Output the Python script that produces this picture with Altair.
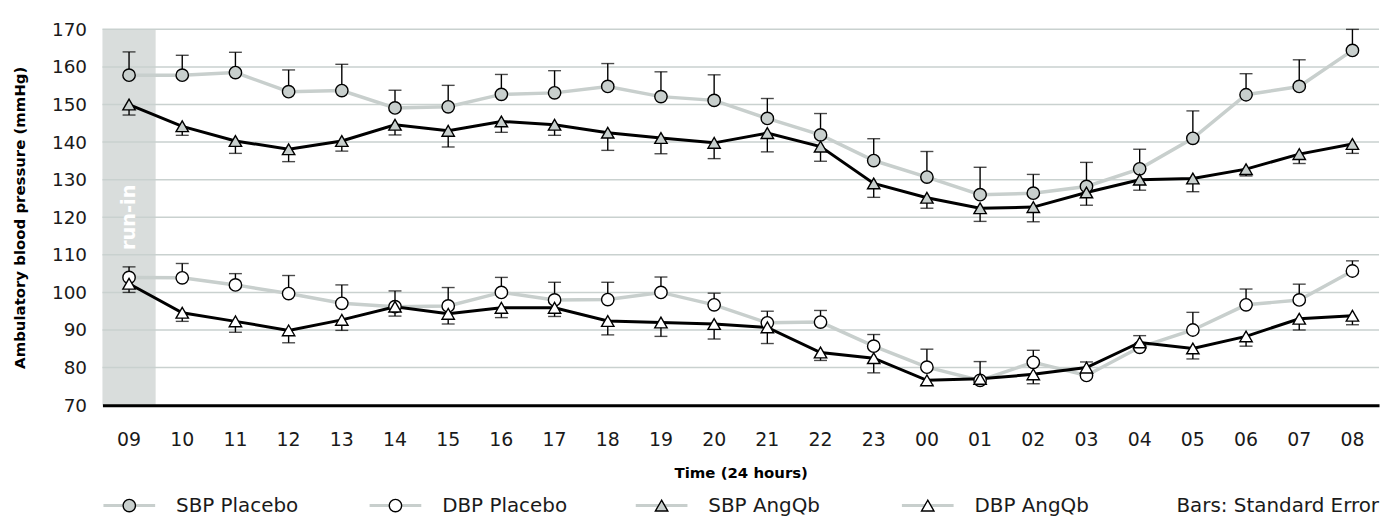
import altair as alt
import pandas as pd

# ---------------- data ----------------
hours = ["09", "10", "11", "12", "13", "14", "15", "16", "17", "18", "19", "20",
         "21", "22", "23", "00", "01", "02", "03", "04", "05", "06", "07", "08"]

series_names = ["SBP Placebo", "DBP Placebo", "SBP AngQb", "DBP AngQb"]

sbp_placebo = [157.8, 157.8, 158.5, 153.4, 153.7, 149.1, 149.4, 152.7, 153.1, 154.8, 152.1, 151.1,
               146.3, 141.9, 135.1, 130.7, 126.0, 126.4, 128.2, 132.9, 141.0, 152.6, 154.8, 164.4]
sbp_placebo_top = [164.0, 163.1, 163.9, 159.2, 160.7, 153.8, 155.1, 158.0, 159.0, 160.9, 158.7, 157.9,
                   151.6, 147.6, 140.9, 137.5, 133.3, 131.4, 134.6, 138.1, 148.3, 158.2, 161.9, 170.0]

dbp_placebo = [104.0, 103.9, 102.0, 99.7, 97.1, 96.2, 96.4, 100.0, 98.0, 98.1, 100.0, 96.7,
               91.9, 92.1, 85.7, 80.1, 76.6, 81.4, 77.9, 85.4, 90.0, 96.7, 98.0, 105.7]
dbp_placebo_top = [106.8, 107.7, 105.0, 104.5, 102.0, 100.4, 101.3, 104.0, 102.7, 102.7, 104.1, 99.8,
                   95.0, 95.2, 88.8, 84.9, 81.6, 84.6, 81.5, 88.5, 94.7, 100.9, 102.2, 108.4]

sbp_angqb = [150.0, 144.2, 140.3, 138.1, 140.3, 144.6, 143.0, 145.5, 144.6, 142.5, 141.1, 139.8,
             142.4, 138.8, 129.0, 125.2, 122.4, 122.7, 126.6, 130.0, 130.3, 132.8, 136.8, 139.5]
sbp_angqb_low = [147.2, 141.8, 137.0, 134.8, 137.6, 141.9, 138.7, 142.6, 141.8, 137.8, 136.9, 135.6,
                 137.4, 134.9, 125.3, 122.4, 118.9, 118.8, 123.2, 127.2, 126.8, 131.0, 134.3, 137.0]

dbp_angqb = [102.3, 94.6, 92.3, 89.9, 92.7, 96.2, 94.3, 95.9, 95.9, 92.4, 92.0, 91.6,
             90.7, 84.0, 82.5, 76.6, 77.0, 78.2, 80.0, 86.7, 85.1, 88.3, 93.0, 93.8]
dbp_angqb_low = [100.0, 92.3, 89.4, 86.6, 89.9, 93.7, 91.6, 93.3, 93.6, 88.7, 88.3, 87.6,
                 86.4, 81.9, 78.6, 75.4, 76.0, 75.7, 78.0, 85.5, 82.3, 85.7, 90.0, 91.4]

y_ticks = [70, 80, 90, 100, 110, 120, 130, 140, 150, 160, 170]
grid_values = [80, 90, 100, 110, 120, 130, 140, 150, 160, 170]
run_in_hours = ["09"]
run_in_label = "run-in"
bars_note = "Bars: Standard Error"

# ---------------- tables ----------------
rows = []
for name, vals, ends in [("SBP Placebo", sbp_placebo, sbp_placebo_top),
                         ("DBP Placebo", dbp_placebo, dbp_placebo_top),
                         ("SBP AngQb", sbp_angqb, sbp_angqb_low),
                         ("DBP AngQb", dbp_angqb, dbp_angqb_low)]:
    for h, v, e in zip(hours, vals, ends):
        rows.append({"hour": h, "series": name, "value": v, "end": e})
df = pd.DataFrame(rows)
df_band = pd.DataFrame({"hour": run_in_hours})
df_grid = pd.DataFrame({"g": grid_values})
df_leg = pd.DataFrame({"series": series_names, "idx": list(range(len(series_names)))})

# ---------------- styling ----------------
FONT = "DejaVu Sans"
GREY = "#c8cfcd"
BAND = "#d9dddc"
GRIDC = "#c9d1cf"
W, H = 1284, 378

xs = alt.Scale(domain=hours, type="band", paddingInner=0, paddingOuter=0)
ys = alt.Scale(domain=[70, 170], nice=False, zero=False)

xaxis = alt.Axis(title="Time (24 hours)", labelAngle=0, labelFont=FONT, labelFontSize=19,
                 labelColor="#1a1a1a", labelPadding=26, ticks=False, tickSize=0,
                 domain=True, domainColor="black", domainWidth=3, zindex=1,
                 titleFont=FONT, titleFontSize=15, titleFontWeight="bold", titleColor="black",
                 titleY=68, titleBaseline="middle")
yaxis = alt.Axis(title="Ambulatory blood pressure (mmHg)", values=y_ticks, labelFont=FONT,
                 labelFontSize=18.5, labelColor="#1a1a1a", labelPadding=16, ticks=False, tickSize=0,
                 domain=False, grid=False,
                 titleFont=FONT, titleFontSize=15, titleFontWeight="bold", titleColor="black",
                 titleAngle=270, titleX=-83, titleY=H / 2, titleBaseline="middle", titleAlign="center")


def X():
    return alt.X("hour:O", scale=xs, axis=xaxis)


def Y(field):
    return alt.Y(field, scale=ys, axis=yaxis)


shape_s = alt.Scale(domain=series_names, range=["circle", "circle", "triangle-up", "triangle-up"])
fill_s = alt.Scale(domain=series_names, range=[GREY, "white", GREY, "white"])
size_s = alt.Scale(domain=series_names, range=[155, 155, 240, 240])

band = alt.Chart(df_band).mark_rect(color=BAND).encode(
    x=X(), y=alt.Y(datum=170, scale=ys, axis=yaxis), y2=alt.Y2(datum=70))

grid = alt.Chart(df_grid).mark_rule(color=GRIDC, strokeWidth=1.5).encode(y=Y("g:Q"))

run_in = alt.Chart(df_band).mark_text(
    text=run_in_label, angle=270, color="white", font=FONT, fontWeight="bold", fontSize=19.5,
    align="center", baseline="middle").encode(x=X(), y=alt.Y(datum=120, scale=ys, axis=yaxis))


def line_layer(name, color, width):
    return alt.Chart(df).transform_filter(alt.datum.series == name).mark_line(
        color=color, strokeWidth=width).encode(x=X(), y=Y("value:Q"))


lines = [line_layer("SBP Placebo", GREY, 3.5), line_layer("DBP Placebo", GREY, 3.5),
         line_layer("SBP AngQb", "black", 3), line_layer("DBP AngQb", "black", 3)]

err = alt.Chart(df).mark_rule(color="black", strokeWidth=1.4).encode(
    x=X(), y=Y("value:Q"), y2="end:Q")
caps = alt.Chart(df).mark_tick(color="black", thickness=1.4, size=13).encode(
    x=X(), y=Y("end:Q"))

points = alt.Chart(df).mark_point(filled=True, stroke="black", strokeWidth=1.4, opacity=1).encode(
    x=X(), y=Y("value:Q"),
    shape=alt.Shape("series:N", scale=shape_s, legend=None),
    fill=alt.Fill("series:N", scale=fill_s, legend=None),
    size=alt.Size("series:N", scale=size_s, legend=None))

# ---------------- legend (drawn) ----------------
LEG_Y = 479
leg_base = alt.Chart(df_leg).transform_calculate(
    lx="datum.idx * 267.7 + 27", x1="datum.idx * 267.7 + 1", x2="datum.idx * 267.7 + 53",
    tx="datum.idx * 267.7 + 74")
leg_lines = leg_base.mark_rule(color=GREY, strokeWidth=3).encode(
    x=alt.X("x1:Q", scale=None), x2="x2:Q", y=alt.value(LEG_Y))
leg_pts = leg_base.mark_point(filled=True, stroke="black", strokeWidth=1.4, opacity=1).encode(
    x=alt.X("lx:Q", scale=None), y=alt.value(LEG_Y),
    shape=alt.Shape("series:N", scale=shape_s, legend=None),
    fill=alt.Fill("series:N", scale=fill_s, legend=None),
    size=alt.Size("series:N", scale=size_s, legend=None))
leg_txt = leg_base.mark_text(align="left", baseline="middle", font=FONT, fontSize=20,
                             color="#1a1a1a").encode(
    x=alt.X("tx:Q", scale=None), y=alt.value(LEG_Y), text="series:N")
note = alt.Chart(pd.DataFrame({"t": [bars_note]})).mark_text(
    align="right", baseline="middle", font=FONT, fontSize=20, color="#1a1a1a").encode(
    x=alt.value(W), y=alt.value(LEG_Y), text="t:N")

chart = alt.layer(band, grid, run_in, *lines, err, caps, points,
                  leg_lines, leg_pts, leg_txt, note).properties(
    width=W, height=H,
    autosize=alt.AutoSizeParams(type="none"),
    padding={"left": 95, "top": 20, "right": 5, "bottom": 110},
    background="white",
).configure_view(stroke=None)

chart.save("out.html", embed_options={"renderer": "svg", "actions": False})
